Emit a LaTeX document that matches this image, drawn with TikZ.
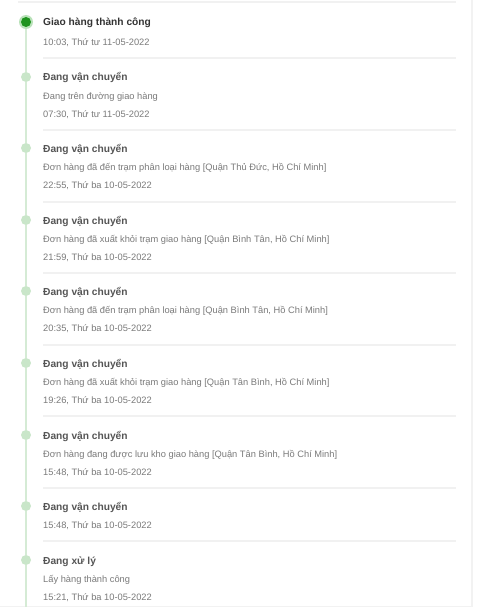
\documentclass[tikz,border=0pt]{standalone}
\usepackage{fontspec}
\setmainfont{Liberation Sans}
\definecolor{tline}{HTML}{D5EBD5}
\definecolor{tdot}{HTML}{C9E6C9}
\definecolor{tdone}{HTML}{1E931E}
\definecolor{thalo}{HTML}{B9E2B9}
\definecolor{ttitle}{HTML}{555555}
\definecolor{tfirst}{HTML}{333333}
\definecolor{tsub}{HTML}{7A7A7A}
\definecolor{tsep}{HTML}{F1F1F1}
\definecolor{tborder}{HTML}{F2F2F2}
\begin{document}
\begin{tikzpicture}[x=1pt,y=-1pt,
  dotpt/.style={circle,fill=tdot,inner sep=0pt,minimum size=10pt},
  ttl/.style={anchor=base west,inner sep=0pt,text=ttitle,font=\fontsize{10.2}{12}\selectfont\bfseries},
  sub/.style={anchor=base west,inner sep=0pt,text=tsub,font=\fontsize{9.3}{11}\selectfont},
  sep/.style={draw=tsep,line width=1.2pt},
  tl/.style={draw=tline,line width=1.5pt}]
\useasboundingbox (0,0) rectangle (478,607);
\fill[white] (0,0) rectangle (478,607);
% borders
\draw[draw=tborder,line width=1.5pt] (472,0) -- (472,607);
\draw[draw=tborder,line width=1pt] (0,606.5) -- (472,606.5);
\draw[sep] (18,2) -- (456,2);
% separators
\foreach \y in {58,130,202,273,345,416,488,541} \draw[sep] (43,\y) -- (456,\y);
% timeline dots
\coordinate (bot) at (26,607);
\node[circle,fill=thalo,inner sep=0pt,minimum size=14pt] (d1) at (26,22) {};
\node[circle,fill=tdone,inner sep=0pt,minimum size=10pt] at (d1) {};
\node[dotpt] (d2) at (26,77) {};
\node[dotpt] (d3) at (26,148) {};
\node[dotpt] (d4) at (26,220) {};
\node[dotpt] (d5) at (26,291) {};
\node[dotpt] (d6) at (26,363) {};
\node[dotpt] (d7) at (26,435) {};
\node[dotpt] (d8) at (26,506) {};
\node[dotpt] (d9) at (26,560) {};
\draw[tl] (d1.south) -- (d2.north);
\draw[tl] (d2.south) -- (d3.north);
\draw[tl] (d3.south) -- (d4.north);
\draw[tl] (d4.south) -- (d5.north);
\draw[tl] (d5.south) -- (d6.north);
\draw[tl] (d6.south) -- (d7.north);
\draw[tl] (d7.south) -- (d8.north);
\draw[tl] (d8.south) -- (d9.north);
\draw[tl] (d9.south) -- (bot);
% item 1
\node[ttl,text=tfirst] (t1) at (43,26) {Giao hàng thành công};
\node[sub] (s1) at (43,45.5) {10:03, Thứ tư 11-05-2022};
% item 2
\node[ttl] (t2) at (43,81) {Đang vận chuyển};
\node[sub] (l2) at (43,99.5) {Đang trên đường giao hàng};
\node[sub] (s2) at (43,117.5) {07:30, Thứ tư 11-05-2022};
% item 3
\node[ttl] (t3) at (43,152) {Đang vận chuyển};
\node[sub] (l3) at (43,170.5) {Đơn hàng đã đến trạm phân loại hàng [Quận Thủ Đức, Hồ Chí Minh]};
\node[sub] (s3) at (43,188.5) {22:55, Thứ ba 10-05-2022};
% item 4
\node[ttl] (t4) at (43,224) {Đang vận chuyển};
\node[sub] (l4) at (43,242.5) {Đơn hàng đã xuất khỏi trạm giao hàng [Quận Bình Tân, Hồ Chí Minh]};
\node[sub] (s4) at (43,260.5) {21:59, Thứ ba 10-05-2022};
% item 5
\node[ttl] (t5) at (43,295) {Đang vận chuyển};
\node[sub] (l5) at (43,313.5) {Đơn hàng đã đến trạm phân loại hàng [Quận Bình Tân, Hồ Chí Minh]};
\node[sub] (s5) at (43,331.5) {20:35, Thứ ba 10-05-2022};
% item 6
\node[ttl] (t6) at (43,367) {Đang vận chuyển};
\node[sub] (l6) at (43,385.5) {Đơn hàng đã xuất khỏi trạm giao hàng [Quận Tân Bình, Hồ Chí Minh]};
\node[sub] (s6) at (43,403.5) {19:26, Thứ ba 10-05-2022};
% item 7
\node[ttl] (t7) at (43,439) {Đang vận chuyển};
\node[sub] (l7) at (43,457.5) {Đơn hàng đang được lưu kho giao hàng [Quận Tân Bình, Hồ Chí Minh]};
\node[sub] (s7) at (43,475.5) {15:48, Thứ ba 10-05-2022};
% item 8
\node[ttl] (t8) at (43,510) {Đang vận chuyển};
\node[sub] (s8) at (43,528.5) {15:48, Thứ ba 10-05-2022};
% item 9
\node[ttl] (t9) at (43,564) {Đang xử lý};
\node[sub] (l9) at (43,582.5) {Lấy hàng thành công};
\node[sub] (s9) at (43,600) {15:21, Thứ ba 10-05-2022};
\end{tikzpicture}
\end{document}
